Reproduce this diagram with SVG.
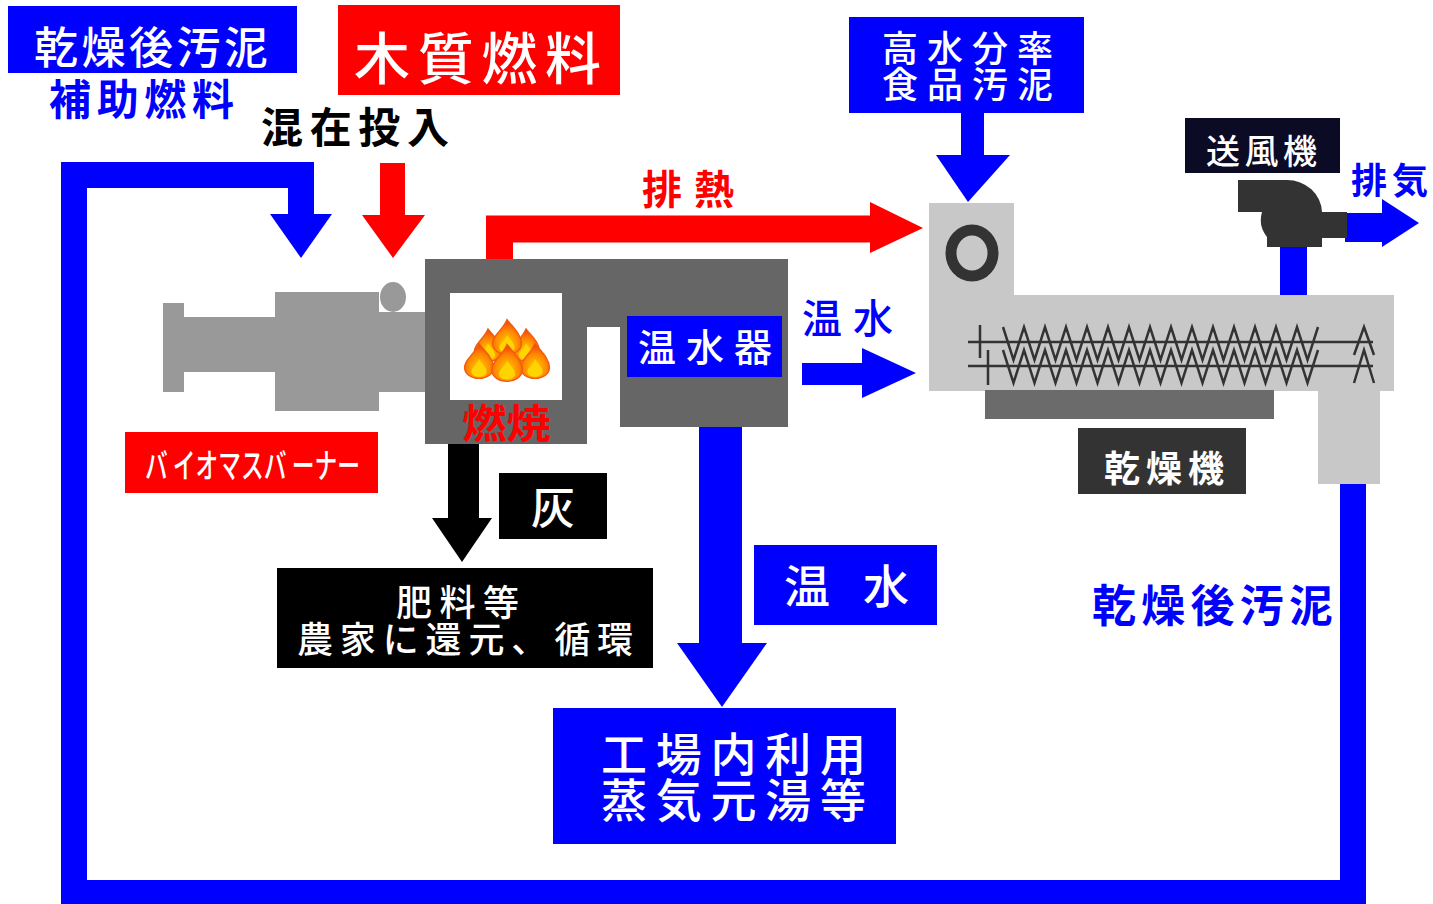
<svg xmlns="http://www.w3.org/2000/svg" width="1433" height="904" viewBox="0 0 1433 904">
  <style>
    text { font-family: "Noto Sans CJK JP", "Noto Sans", sans-serif; dominant-baseline: central; }
    .w { fill: #ffffff; font-weight: 500; }
    .wb { fill: #ffffff; font-weight: 700; }
    .blue { fill: #0000ff; }
    .red { fill: #ff0000; }
    .bk { fill: #000000; }
    .flow { fill: none; stroke-linejoin: miter; }
    .screw { fill: none; stroke: #333333; stroke-width: 2.5; }
  </style>
  <defs>
    <radialGradient id="flameFill" cx="0.5" cy="0.7" r="0.7">
      <stop offset="0" stop-color="#ffd200"/>
      <stop offset="0.55" stop-color="#ff8a00"/>
      <stop offset="1" stop-color="#f03a10"/>
    </radialGradient>
    <g id="flame">
      <path d="M0,-24 C6,-16 17,-7 17,4 C17,12 9,17 0,17 C-9,17 -17,12 -17,4 C-17,-6 -5,-11 0,-24 Z" fill="url(#flameFill)" stroke="#f25a10" stroke-width="1.5"/>
      <path d="M0,-6 C3,-1 9,4 9,9 C9,13 4,15 0,15 C-4,15 -9,13 -9,9 C-9,4 -2,1 0,-6 Z" fill="#ffd400"/>
    </g>
  </defs>

  <rect width="1433" height="904" fill="#ffffff"/>

  <!-- connectors -->
  <g id="connectors">
    <!-- dried sludge return loop -->
    <path class="flow" d="M1353,484 V893 H74 V175 H301 V216" stroke="#0000ff" stroke-width="26"/>
    <polygon points="270,214 332,214 301,258" fill="#0000ff"/>
    <!-- wood fuel feed -->
    <rect x="380" y="163" width="25" height="53" fill="#ff0000"/>
    <polygon points="362,215 425,215 393,258" fill="#ff0000"/>
    <!-- exhaust heat -->
    <path class="flow" d="M499.5,260 V229 H872" stroke="#ff0000" stroke-width="27"/>
    <polygon points="870,202 923,228 870,253" fill="#ff0000"/>
    <!-- hot water to dryer -->
    <rect x="802" y="363" width="62" height="22" fill="#0000ff"/>
    <polygon points="862,348 916,373 862,398" fill="#0000ff"/>
    <!-- high-moisture sludge feed -->
    <rect x="961" y="112" width="23" height="44" fill="#0000ff"/>
    <polygon points="936,155 1010,155 968,202" fill="#0000ff"/>
    <!-- blower pipe and exhaust -->
    <rect x="1280" y="245" width="27" height="52" fill="#0000ff"/>
    <rect x="1345" y="213" width="39" height="29" fill="#0000ff"/>
    <polygon points="1382,199 1419,223 1382,247" fill="#0000ff"/>
    <!-- ash -->
    <rect x="448" y="443" width="31" height="77" fill="#000000"/>
    <polygon points="432,518 492,518 462,562" fill="#000000"/>
    <!-- hot water to plant use -->
    <rect x="699" y="426" width="43" height="219" fill="#0000ff"/>
    <polygon points="677,643 767,643 722,707" fill="#0000ff"/>
  </g>

  <!-- biomass burner body -->
  <g id="burner">
    <rect x="163" y="303" width="21" height="89" fill="#999999"/>
    <rect x="182" y="317" width="95" height="55" fill="#999999"/>
    <rect x="275" y="292" width="104" height="119" fill="#999999"/>
    <rect x="377" y="312" width="50" height="80" fill="#999999"/>
    <ellipse cx="393" cy="297" rx="13" ry="15" fill="#999999"/>
  </g>

  <!-- furnace and water heater -->
  <g id="furnace">
    <polygon points="425,259 788,259 788,427 620,427 620,327 587,327 587,444 425,444" fill="#666666"/>
    <rect x="450" y="293" width="112" height="107" fill="#ffffff"/>
    <use href="#flame" transform="translate(488,348) scale(0.8)"/>
    <use href="#flame" transform="translate(526,348) scale(0.8)"/>
    <use href="#flame" transform="translate(507,340) scale(0.85)"/>
    <use href="#flame" transform="translate(479,364) scale(0.85)"/>
    <use href="#flame" transform="translate(535,364) scale(0.85)"/>
    <use href="#flame" transform="translate(507,366) scale(0.9)"/>
    <text class="red" x="462" y="421" font-size="40" font-weight="700" textLength="89" lengthAdjust="spacingAndGlyphs">燃焼</text>
  </g>

  <g id="water-heater">
    <rect x="627" y="316" width="155" height="61" fill="#0000ff"/>
    <text class="w" x="638" y="344" font-size="38" textLength="134" lengthAdjust="spacing">温水器</text>
  </g>

  <!-- screw dryer -->
  <g id="dryer">
    <path d="M929,203 H1014 V295 H1394 V391 H1380 V484 H1318 V391 H929 Z" fill="#c8c8c8"/>
    <rect x="985" y="390" width="289" height="29" fill="#6b6b6b"/>
    <ellipse cx="972" cy="253" rx="21" ry="23" fill="none" stroke="#333333" stroke-width="11"/>
    <line class="screw" x1="968" y1="342" x2="1373" y2="342"/>
    <line class="screw" x1="968" y1="366" x2="1373" y2="366"/>
    <line class="screw" x1="980" y1="325" x2="980" y2="358"/>
    <line class="screw" x1="988" y1="350" x2="988" y2="385"/>
    <path class="screw" d="M1003,327 l10.5,33 l10.5,-33 l10.5,33 l10.5,-33 l10.5,33 l10.5,-33 l10.5,33 l10.5,-33 l10.5,33 l10.5,-33 l10.5,33 l10.5,-33 l10.5,33 l10.5,-33 l10.5,33 l10.5,-33 l10.5,33 l10.5,-33 l10.5,33 l10.5,-33 l10.5,33 l10.5,-33 l10.5,33 l10.5,-33 l10.5,33 l10.5,-33 l10.5,33 l10.5,-33 l10.5,33 l10.5,-33"/>
    <path class="screw" d="M1003,350 l10.5,33 l10.5,-33 l10.5,33 l10.5,-33 l10.5,33 l10.5,-33 l10.5,33 l10.5,-33 l10.5,33 l10.5,-33 l10.5,33 l10.5,-33 l10.5,33 l10.5,-33 l10.5,33 l10.5,-33 l10.5,33 l10.5,-33 l10.5,33 l10.5,-33 l10.5,33 l10.5,-33 l10.5,33 l10.5,-33 l10.5,33 l10.5,-33 l10.5,33 l10.5,-33 l10.5,33 l10.5,-33"/>
    <polyline class="screw" points="1354,355 1364,327 1374,355"/>
    <polyline class="screw" points="1354,383 1364,350 1374,383"/>
  </g>

  <g id="dryer-label">
    <rect x="1078" y="428" width="168" height="66" fill="#333333"/>
    <text class="wb" x="1104" y="466" font-size="36" textLength="120" lengthAdjust="spacing">乾燥機</text>
  </g>

  <!-- blower -->
  <g id="blower">
    <path d="M1238,180 H1287 A35,33 0 0 1 1322,212 H1347 V238 H1322 V247 H1267 V237 Q1258,226 1262,212 H1238 Z" fill="#333333"/>
  </g>
  <g id="blower-label">
    <rect x="1185" y="118" width="155" height="55" fill="#0b0b26"/>
    <text class="w" x="1206" y="149" font-size="34" textLength="111" lengthAdjust="spacing">送風機</text>
  </g>
  <g id="exhaust-label">
    <text class="blue" x="1351" y="178" font-size="36" font-weight="700" textLength="77" lengthAdjust="spacing">排気</text>
  </g>

  <!-- labels and boxes -->
  <g id="dried-sludge-fuel">
    <rect x="8" y="6" width="289" height="67" fill="#0000ff"/>
    <text class="w" x="34" y="45" font-size="44" textLength="234" lengthAdjust="spacing">乾燥後汚泥</text>
    <text class="blue" x="49" y="96" font-size="42" font-weight="700" textLength="185" lengthAdjust="spacing">補助燃料</text>
  </g>

  <g id="wood-fuel">
    <rect x="338" y="5" width="282" height="90" fill="#ff0000"/>
    <text class="w" x="354" y="54" font-size="56" textLength="247" lengthAdjust="spacing">木質燃料</text>
  </g>

  <g id="mixed-input">
    <text class="bk" x="261" y="124" font-size="42" font-weight="700" textLength="188" lengthAdjust="spacing">混在投入</text>
  </g>

  <g id="high-moisture-sludge">
    <rect x="849" y="17" width="235" height="96" fill="#0000ff"/>
    <text class="w" x="882" y="46" font-size="36" textLength="171" lengthAdjust="spacing">高水分率</text>
    <text class="w" x="882" y="82" font-size="36" textLength="171" lengthAdjust="spacing">食品汚泥</text>
  </g>

  <g id="exhaust-heat-label">
    <text class="red" x="642" y="187" font-size="40" font-weight="700" textLength="92" lengthAdjust="spacing">排熱</text>
  </g>

  <g id="hot-water-label">
    <text class="blue" x="802" y="316" font-size="40" font-weight="500" textLength="91" lengthAdjust="spacing">温水</text>
  </g>

  <g id="burner-label">
    <rect x="125" y="432" width="253" height="61" fill="#ff0000"/>
    <text class="w" x="145" y="463" font-size="34" textLength="215" lengthAdjust="spacingAndGlyphs">バ イオマスバ ーナー</text>
  </g>

  <g id="ash">
    <rect x="499" y="473" width="108" height="66" fill="#000000"/>
    <text class="w" x="531" y="505" font-size="44">灰</text>
  </g>

  <g id="fertilizer">
    <rect x="277" y="568" width="376" height="100" fill="#000000"/>
    <text class="w" x="396" y="600" font-size="36" textLength="123" lengthAdjust="spacing">肥料等</text>
    <text class="w" x="297" y="637" font-size="36" textLength="336" lengthAdjust="spacing">農家に還元、循環</text>
  </g>

  <g id="hot-water-box">
    <rect x="754" y="545" width="183" height="80" fill="#0000ff"/>
    <text class="w" x="784" y="583" font-size="46" textLength="125" lengthAdjust="spacing">温 水</text>
  </g>

  <g id="plant-use">
    <rect x="553" y="708" width="343" height="136" fill="#0000ff"/>
    <text class="w" x="601" y="751" font-size="46" textLength="265" lengthAdjust="spacing">工場内利用</text>
    <text class="w" x="601" y="797" font-size="46" textLength="265" lengthAdjust="spacing">蒸気元湯等</text>
  </g>

  <g id="dried-sludge-label">
    <text class="blue" x="1092" y="603" font-size="44" font-weight="700" textLength="241" lengthAdjust="spacing">乾燥後汚泥</text>
  </g>
</svg>
